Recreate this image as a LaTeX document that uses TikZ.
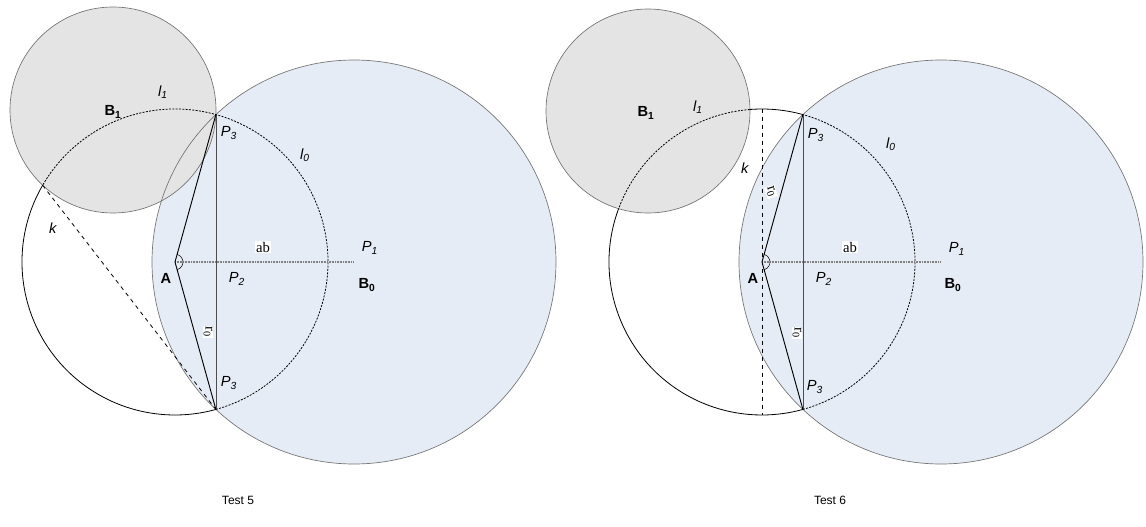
\documentclass[tikz,border=0pt]{standalone}
\usepackage{fontspec}
\setmainfont{Liberation Sans}
\newfontfamily\timesfont{Liberation Serif}
\usepackage{tikz}

\definecolor{lightblue}{RGB}{230,236,246}
\definecolor{lightgrey}{RGB}{228,228,228}

\begin{document}
\begin{tikzpicture}[x=0.75pt,y=0.75pt]
\tikzstyle{every node}=[font=\fontsize{11}{13}\selectfont,inner sep=1pt];
\tikzstyle{disc}=[draw=black!55,line width=0.5pt];
\tikzstyle{kcirc}=[black,line width=0.6pt];
\tikzstyle{inside}=[kcirc,dash pattern=on 1.5pt off 1pt];
\tikzstyle{chord}=[black,line width=0.7pt];
\tikzstyle{axis}=[gray,line width=1.4pt,dash pattern=on 0.6pt off 0.6pt];
\tikzstyle{tag}=[fill=white,font=\timesfont\fontsize{11}{13}\selectfont,inner sep=0.5pt];
\useasboundingbox (0,0) rectangle (1146,526);

% Test 5
\coordinate (A) at (175,264);
\coordinate (B0) at (354,264);
\coordinate (B1) at (113,416);
\coordinate (P3t) at ([shift={(74.5:153)}]A);
\coordinate (P3b) at ([shift={(-74.5:153)}]A);
\coordinate (K) at ([shift={(149.9:153)}]A);
\fill[lightblue] (B0) circle[radius=202];
\fill[lightgrey] (B1) circle[radius=103];
\draw[disc] (B0) circle[radius=202];
\draw[disc] (B1) circle[radius=103];
\draw[inside] (P3b) arc[start angle=-74.5,end angle=149.9,radius=153];
\draw[kcirc] (K) arc[start angle=149.9,end angle=285.5,radius=153];
\draw[dashed,line width=0.6pt] (K) -- (P3b);
\draw[black!70,line width=0.4pt] (P3t) -- (P3b);
\draw[axis] (A) -- (B0);
\draw[chord] (P3t) -- (A) -- (P3b);
\draw ([shift={(-74.5:8)}]A) arc[start angle=-74.5,end angle=74.5,radius=8];
\node (b1) at (113,414) {\textbf{B\textsubscript{1}}};
\node (l1) at (163,434) {\textit{l\textsubscript{1}}};
\node (p3t) at (229,393) {\textit{P\textsubscript{3}}};
\node (l0) at (305,371) {\textit{l\textsubscript{0}}};
\node (k) at (53,298) {\textit{k}};
\node[tag] (ab) at (263,279) {ab};
\node (p1) at (370,278) {\textit{P\textsubscript{1}}};
\node (a) at (166,248) {\textbf{A}};
\node (p2) at (237,247) {\textit{P\textsubscript{2}}};
\node (b0) at (367,241) {\textbf{B\textsubscript{0}}};
\node (p3b) at (229,143) {\textit{P\textsubscript{3}}};
\node[tag,rotate=-90] (r0) at (208,194) {r\textsubscript{0}};
\node[font=\fontsize{9}{11}\selectfont] (t5) at (238,26) {Test 5};

% Test 6
\coordinate (A') at (762,264);
\coordinate (B0') at (941,264);
\coordinate (B1') at (648,415);
\coordinate (P3t') at ([shift={(74.5:153)}]A');
\coordinate (P3b') at ([shift={(-74.5:153)}]A');
\coordinate (G1) at ([shift={(94.6:153)}]A');
\coordinate (G2) at ([shift={(159.6:153)}]A');
\coordinate (Kt) at ([shift={(90:153)}]A');
\coordinate (Kb) at ([shift={(270:153)}]A');
\fill[lightblue] (B0') circle[radius=202];
\fill[lightgrey] (B1') circle[radius=102];
\draw[disc] (B0') circle[radius=202];
\draw[disc] (B1') circle[radius=102];
\draw[inside] (P3b') arc[start angle=-74.5,end angle=74.5,radius=153];
\draw[kcirc] (P3t') arc[start angle=74.5,end angle=94.6,radius=153];
\draw[inside] (G1) arc[start angle=94.6,end angle=159.6,radius=153];
\draw[kcirc] (G2) arc[start angle=159.6,end angle=285.5,radius=153];
\draw[dashed,line width=0.6pt] (Kt) -- (Kb);
\draw[black!70,line width=0.4pt] (P3t') -- (P3b');
\draw[axis] (A') -- (B0');
\draw[chord] (P3t') -- (A') -- (P3b');
\draw ([shift={(-74.5:8)}]A') arc[start angle=-74.5,end angle=74.5,radius=8];
\node (b1') at (646,413) {\textbf{B\textsubscript{1}}};
\node (l1') at (698,419) {\textit{l\textsubscript{1}}};
\node (k') at (745,358) {\textit{k}};
\node[tag,rotate=-72] (r0t') at (771,334) {r\textsubscript{0}};
\node (p3t') at (816,391) {\textit{P\textsubscript{3}}};
\node (l0') at (891,382) {\textit{l\textsubscript{0}}};
\node[tag] (ab') at (850,279) {ab};
\node (p1') at (957,277) {\textit{P\textsubscript{1}}};
\node (a') at (753,248) {\textbf{A}};
\node (p2') at (824,247) {\textit{P\textsubscript{2}}};
\node (b0') at (953,241) {\textbf{B\textsubscript{0}}};
\node (p3b') at (815,139) {\textit{P\textsubscript{3}}};
\node[tag,rotate=-90] (r0') at (797,193) {r\textsubscript{0}};
\node[font=\fontsize{9}{11}\selectfont] (t6) at (830,26) {Test 6};
\end{tikzpicture}
\end{document}
